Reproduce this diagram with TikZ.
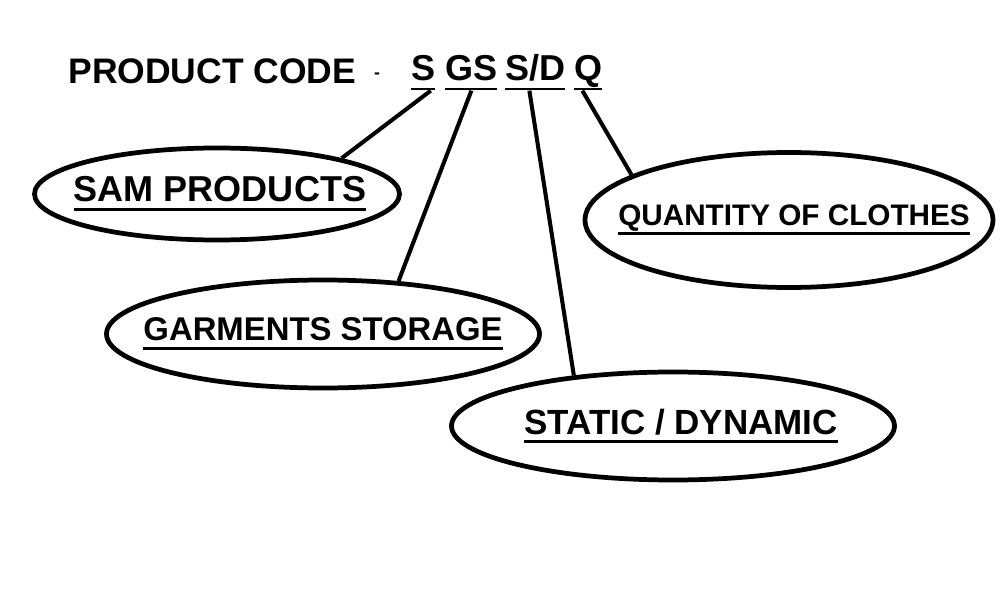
\documentclass[tikz,border=0pt]{standalone}
\usepackage{fontspec}
\setmainfont{Liberation Sans}
\usetikzlibrary{shapes, positioning}

\newcommand{\undl}[2][1.7pt]{\setbox0\hbox{#2}\rlap{\rule[-5.3pt]{\wd0}{#1}}\box0}

\begin{document}
\begin{tikzpicture}[bubble/.style={draw, ellipse, line width=2.7pt, inner sep=0pt},
    link/.style={line width=2.3pt},
    code/.style={inner sep=0pt, anchor=base west, font=\bfseries\fontsize{20.5}{25}\selectfont}]
    \useasboundingbox (0,0) rectangle (20,12);
    % code line
    \node[code, font=\bfseries\fontsize{20.2}{24}\selectfont] (title) at (1.36,10.32) {PRODUCT CODE};
    \node[inner sep=0pt, font=\bfseries\fontsize{10}{12}\selectfont] (dash) at (7.54,10.48) {-};
    \node[code] (cS) at (8.22,10.38) {\undl[1.1pt]{S}};
    \node[code] (cGS) at (8.9,10.38) {\undl[1.1pt]{GS}};
    \node[code] (cSD) at (10.1,10.38) {\undl[1.1pt]{S/D}};
    \node[code] (cQ) at (11.48,10.38) {\undl[1.1pt]{Q}};

    % meanings
    \node[bubble, minimum width=7.3cm, minimum height=1.84cm,
        label={[font=\bfseries\fontsize{20.5}{24}\selectfont, xshift=0.06cm]center:\undl{SAM PRODUCTS}}] (sam) at (4.34,8.12) {};
    \node[bubble, minimum width=8.16cm, minimum height=2.7cm,
        label={[font=\bfseries\fontsize{16.9}{20}\selectfont, xshift=0.1cm]center:\undl{QUANTITY OF CLOTHES}}] (qty) at (15.78,7.6) {};
    \node[bubble, minimum width=8.66cm, minimum height=2.16cm,
        label={[font=\bfseries\fontsize{18.7}{22}\selectfont]center:\undl{GARMENTS STORAGE}}] (garm) at (6.46,5.32) {};
    \node[bubble, minimum width=8.86cm, minimum height=2.16cm,
        label={[font=\bfseries\fontsize{19.9}{24}\selectfont, xshift=0.16cm]center:\undl{STATIC / DYNAMIC}}] (stat) at (13.46,3.48) {};

    % links
    \draw[link] ([xshift=-0.1cm]cS.south east) -- (sam.16.7);
    \draw[link] (cGS.south) -- (garm.35.4);
    \draw[link] ([xshift=-0.12cm]cSD.south) -- (stat.153);
    \draw[link] ([xshift=-0.12cm]cQ.south) -- (qty.164.9);
\end{tikzpicture}
\end{document}
